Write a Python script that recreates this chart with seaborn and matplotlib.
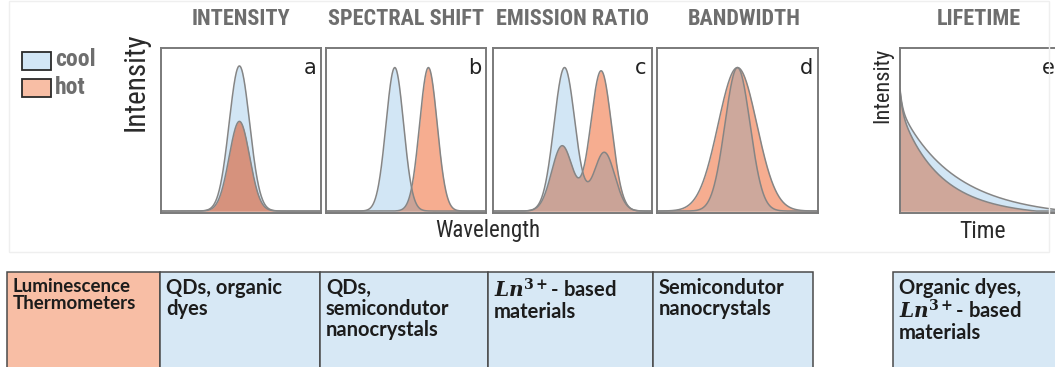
import numpy as np
import pandas as pd
import matplotlib
matplotlib.use("Agg")
import matplotlib.pyplot as plt
from matplotlib.patches import Rectangle
from matplotlib import font_manager as fm
from matplotlib.mathtext import MathTextParser
import seaborn as sns

# ---- spectra: peak centres, heights and widths (axis fractions) ----
a_cool_c, a_cool_h, a_cool_w = [0.49], [0.89], [0.064]
a_hot_c, a_hot_h, a_hot_w = [0.49], [0.55], [0.064]

b_cool_c, b_cool_h, b_cool_w = [0.43], [0.88], [0.055]
b_hot_c, b_hot_h, b_hot_w = [0.64], [0.88], [0.055]

c_cool_c, c_cool_h, c_cool_w = [0.45, 0.70], [0.88, 0.36], [0.066, 0.066]
c_hot_c, c_hot_h, c_hot_w = [0.435, 0.68], [0.40, 0.86], [0.066, 0.066]

d_cool_c, d_cool_h, d_cool_w = [0.50], [0.88], [0.078]
d_hot_c, d_hot_h, d_hot_w = [0.50], [0.88], [0.12]

# ---- lifetime decays: amplitudes, time constants and floor ----
e_cool_amp, e_cool_tau, e_cool_floor = [0.12, 0.12, 0.55], [0.015, 0.20, 0.40], 0.04
e_hot_amp, e_hot_tau, e_hot_floor = [0.12, 0.15, 0.50], [0.015, 0.15, 0.30], 0.03

titles = ["INTENSITY", "SPECTRAL SHIFT", "EMISSION RATIO", "BANDWIDTH", "LIFETIME"]
letters = ["a", "b", "c", "d", "e"]
legend_labels = ["cool", "hot"]

# ---- styling ----
COOL = "#d2e6f5"
HOT = "#f6ad90"
OVERLAP = ["#d6927d", "#caa397", "#caa397", "#cda89c", "#cfa79a"]
EDGE = "#858585"
TITLE_GREY = "#6e6e6e"
CELL_BLUE = "#d7e8f5"
CELL_ORANGE = "#f8bea5"

sns.set_theme(style="white")
plt.rcParams["font.family"] = ["DejaVu Sans"]
plt.rcParams["mathtext.fontset"] = "dejavuserif"


def ln_symbol():
    """Bold-italic Ln^{3+} if this mathtext supports it, plain italic otherwise."""
    s = r"$\mathbfit{Ln}^{\mathbf{3+}}$"
    try:
        MathTextParser("agg").parse(s, dpi=100, prop=fm.FontProperties())
        return s
    except Exception:
        return r"$Ln^{3+}$"


LN = ln_symbol()
table_head = "Luminescence\nThermometers"
table_cells = [
    "QDs, organic\ndyes",
    "QDs,\nsemicondutor\nnanocrystals",
    LN + "- based\nmaterials",
    "Semicondutor\nnanocrystals",
    "Organic dyes,\n" + LN + "- based\nmaterials",
]


def narrow_font(bold):
    """Return the path of an installed condensed/narrow sans face, or None."""
    prefs = ["Roboto Condensed", "Liberation Sans Narrow", "Noto Sans", "Open Sans",
             "DejaVu Sans", "Roboto"]
    best = None
    for f in fm.fontManager.ttflist:
        narrow = ("Condensed" in f.name or "Narrow" in f.name
                  or f.stretch in ("condensed", "semi-condensed", "extra-condensed", 500, 600))
        if "Condensed" in f.fname or "Narrow" in f.fname:
            narrow = True
        if not narrow or f.style != "normal":
            continue
        fn = f.fname.lower()
        if "extra" in fn or "semi" in fn or "ultra" in fn:
            continue
        w = f.weight if isinstance(f.weight, (int, float)) else 400
        if bold and w < 600:
            continue
        if not bold and not (350 <= w <= 450):
            continue
        rank = next((k for k, p in enumerate(prefs) if f.name.startswith(p)), len(prefs))
        if best is None or rank < best[0]:
            best = (rank, f.fname)
    return best[1] if best else None


bold_path = narrow_font(True)
reg_path = narrow_font(False)


def fp(size, bold):
    path = bold_path if bold else reg_path
    if path:
        return fm.FontProperties(fname=path, size=size)
    return fm.FontProperties(family="Roboto", size=size * 0.85,
                             weight="bold" if bold else "normal")


W, H = 1055, 367
fig = plt.figure(figsize=(W / 100, H / 100), dpi=100)


def px_rect(x0, y0, x1, y1):
    return [x0 / W, 1 - y1 / H, (x1 - x0) / W, (y1 - y0) / H]


def gauss_sum(x, cs, hs, ws):
    y = np.zeros_like(x)
    for c, h, w in zip(cs, hs, ws):
        y = y + h * np.exp(-0.5 * ((x - c) / w) ** 2)
    return y


def decay_sum(t, amps, taus, floor):
    y = np.zeros_like(t)
    for a, tau in zip(amps, taus):
        y = y + a * np.exp(-t / tau)
    return np.maximum(y - floor, 0)


x = np.linspace(0, 1, 600)
curves = [
    (gauss_sum(x, a_cool_c, a_cool_h, a_cool_w), gauss_sum(x, a_hot_c, a_hot_h, a_hot_w)),
    (gauss_sum(x, b_cool_c, b_cool_h, b_cool_w), gauss_sum(x, b_hot_c, b_hot_h, b_hot_w)),
    (gauss_sum(x, c_cool_c, c_cool_h, c_cool_w), gauss_sum(x, c_hot_c, c_hot_h, c_hot_w)),
    (gauss_sum(x, d_cool_c, d_cool_h, d_cool_w), gauss_sum(x, d_hot_c, d_hot_h, d_hot_w)),
    (decay_sum(x, e_cool_amp, e_cool_tau, e_cool_floor),
     decay_sum(x, e_hot_amp, e_hot_tau, e_hot_floor)),
]

panel_boxes = [
    (161, 48, 321, 213),
    (326, 48, 486, 213),
    (493, 48, 652, 213),
    (657, 48, 818, 213),
    (900, 48, 1060, 213),
]

for i, (box, (cool, hot)) in enumerate(zip(panel_boxes, curves)):
    ax = fig.add_axes(px_rect(*box))
    ax.fill_between(x, 0, cool, color=COOL, lw=0)
    ax.fill_between(x, 0, hot, color=HOT, lw=0)
    ax.fill_between(x, 0, np.minimum(cool, hot), color=OVERLAP[i], lw=0)
    df = pd.DataFrame({"x": np.concatenate([x, x]),
                       "y": np.concatenate([cool, hot]),
                       "kind": ["cool"] * len(x) + ["hot"] * len(x)})
    sns.lineplot(data=df, x="x", y="y", hue="kind", palette=[EDGE, EDGE],
                 lw=1.1, legend=False, ax=ax, sort=False)
    ax.set_xlim(0, 1)
    ax.set_ylim(-0.012, 1.0)
    ax.set_xticks([])
    ax.set_yticks([])
    ax.set_xlabel("")
    ax.set_ylabel("")
    for s in ax.spines.values():
        s.set_visible(True)
        s.set_color("#7a7a7a")
        s.set_linewidth(1.4)
    ax.text(0.93, 0.88, letters[i], transform=ax.transAxes, ha="center", va="center",
            fontsize=15, color="#222222")

# ---- overlay for labels, legend and table ----
ov = fig.add_axes([0, 0, 1, 1], zorder=5)
ov.set_xlim(0, W)
ov.set_ylim(H, 0)
ov.axis("off")
ov.patch.set_visible(False)

# faint frame around the plot area
ov.add_patch(Rectangle((9, 1), 1040, 251, fill=False, ec="#efefef", lw=1.0))

title_x = [241, 406, 572, 744, 979]
for tx, t in zip(title_x, titles):
    ov.text(tx, 19, t, ha="center", va="center", fontproperties=fp(16, True),
            color=TITLE_GREY)

ov.text(136, 82, "Intensity", rotation=90, ha="center", va="center",
        fontproperties=fp(21, False), color="#2a2a2a")
ov.text(883, 85, "Intensity", rotation=90, ha="center", va="center",
        fontproperties=fp(16, False), color="#2a2a2a")
ov.text(488, 231, "Wavelength", ha="center", va="center",
        fontproperties=fp(16.5, False), color="#2a2a2a")
ov.text(982, 232, "Time", ha="center", va="center",
        fontproperties=fp(17, False), color="#2a2a2a")

# legend
for (y0, fc, lab) in [(52, COOL, legend_labels[0]), (79, CELL_ORANGE, legend_labels[1])]:
    ov.add_patch(Rectangle((22, y0), 29, 18, fc=fc, ec="#2a2a2a", lw=1.3))
    ov.text(55, y0 + 8, lab, ha="left", va="center", fontproperties=fp(17, True),
            color=TITLE_GREY)

# table row
TOP, BOT = 272, 372
cell_edges = [(7, 160), (160, 320), (320, 488), (488, 653), (653, 813), (893, 1062)]
texts = [table_head] + table_cells
for k, ((x0, x1), txt) in enumerate(zip(cell_edges, texts)):
    fc = CELL_ORANGE if k == 0 else CELL_BLUE
    ov.add_patch(Rectangle((x0, TOP), x1 - x0, BOT - TOP, fc=fc, ec="#4a4a4a", lw=1.1))
    fs = 13.5 if k == 0 else 14.5
    ov.text(x0 + 6, TOP + 6, txt, ha="left", va="top", fontsize=fs, weight="bold",
            color="#1c1c1c", family=["Lato", "DejaVu Sans"],
            linespacing=1.0 if k == 0 else 1.06)

fig.savefig("out.png", dpi=100)
